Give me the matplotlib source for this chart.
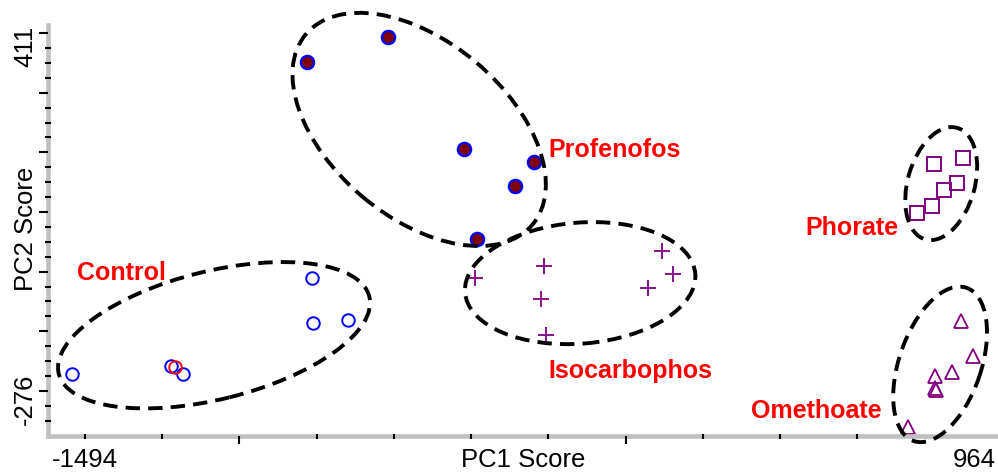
import numpy as np
import matplotlib
matplotlib.use('Agg')
import matplotlib.pyplot as plt
import matplotlib.transforms as mtransforms
from matplotlib.patches import Ellipse

plt.rcParams['font.family'] = ['Liberation Sans', 'DejaVu Sans']

# PC scores
control_x = [-1530, -1256, -1223, -866, -864, -767]
control_y = [-243, -228, -243, -59, -146, -140]
control_red_x = [-1245]
control_red_y = [-230]

profenofos_x = [-880, -656, -446, -252, -305, -410]
profenofos_y = [355, 403, 188, 163, 117, 16]

isocarbophos_x = [-416, -225, -233, -219, 101, 132, 63]
isocarbophos_y = [-59, -36, -100, -169, -7, -51, -78]

phorate_x = [807, 848, 881, 917, 854, 934]
phorate_y = [66, 79, 110, 123, 160, 171]

omethoate_x = [782, 856, 857, 859, 903, 961, 928]
omethoate_y = [-345, -247, -270, -274, -240, -209, -142]

# group ellipse centres (PC1, PC2)
ellipse_x = [-1137, -570, -125, 873, 870]
ellipse_y = [-169, 226, -69, 122, -225]

group_names = ['Control', 'Profenofos', 'Isocarbophos', 'Phorate', 'Omethoate']

x_tick_values = [-1494, 964]
y_tick_values = [411, -276]

# ellipse shapes in pixels: width, height, angle
ellipse_shape = [(320, 128, 14), (296, 176, -40), (231, 121, 4.7),
                 (116, 67, 74), (162, 82, 71)]
label_pos = [(-1394, -63), (-31, 173), (13, -251), (627, 23), (527, -328)]

fig = plt.figure(figsize=(9.98, 4.72), dpi=100)
ax = fig.add_axes([48 / 998, 36 / 472, 950 / 998, 411 / 472])

purple = '#800080'
ax.plot(control_x, control_y, 'o', ms=9, mfc='none', mec='blue', mew=1.4)
ax.plot(control_red_x, control_red_y, 'o', ms=9, mfc='none', mec='red', mew=1.4)
ax.plot(profenofos_x, profenofos_y, 'o', ms=9.5, mfc='#7f0000', mec='blue', mew=1.7)
ax.plot(isocarbophos_x, isocarbophos_y, '+', ms=11, mec=purple, mew=1.3)
ax.plot(phorate_x, phorate_y, 's', ms=10, mfc='none', mec=purple, mew=1.4)
ax.plot(omethoate_x, omethoate_y, '^', ms=10, mfc='none', mec=purple, mew=1.3)

for cx, cy, (w, h, ang) in zip(ellipse_x, ellipse_y, ellipse_shape):
    e = Ellipse((0, 0), w, h, angle=ang, fill=False, ec='black', lw=2.8,
                ls=(0, (3.7, 2.1)), zorder=3, clip_on=False,
                transform=mtransforms.ScaledTranslation(cx, cy, ax.transData))
    ax.add_patch(e)

for name, (lx, ly) in zip(group_names, label_pos):
    ax.text(lx, ly, name, color='red', fontsize=18, fontweight='bold',
            ha='center', va='baseline', zorder=4)

ax.set_xlim(-1596, 1030)
ax.set_ylim(-362.4, 426.4)

# ticks
x_step = 213.5
x_all = [-1494 + k * x_step for k in range(11)]
x_major = [x_all[2], x_all[7]]
x_minor = [v for i, v in enumerate(x_all) if i not in (2, 7)]
y_step = 28.625
y_all = [411 - k * y_step for k in range(27)]
y_major = y_all[::4]
y_minor = [v for i, v in enumerate(y_all) if i % 4]
ax.set_xticks(x_major)
ax.set_xticks(x_minor, minor=True)
ax.set_yticks(y_major)
ax.set_yticks(y_minor, minor=True)
ax.tick_params(which='both', labelbottom=False, labelleft=False, color='black', width=1.5)
ax.tick_params(axis='x', which='major', direction='out', length=6)
ax.tick_params(axis='x', which='minor', direction='inout', length=3.6)
ax.tick_params(axis='y', which='major', direction='out', length=6.2)
ax.tick_params(axis='y', which='minor', direction='inout', length=4.3)

for s in ['top', 'right']:
    ax.spines[s].set_visible(False)
for s in ['left', 'bottom']:
    ax.spines[s].set_color('#c0c0c0')
    ax.spines[s].set_linewidth(3.3)
ax.set_axisbelow(False)

# tick labels at the axis ends
xt = mtransforms.blended_transform_factory(ax.transData, fig.transFigure)
for v in x_tick_values:
    ax.text(v, 5 / 472, str(v), transform=xt, fontsize=18.5, ha='center', va='baseline')
yt = mtransforms.blended_transform_factory(fig.transFigure, ax.transData)
yt = mtransforms.offset_copy(yt, fig, y=-34, units='dots')
for v in y_tick_values:
    ax.text(37 / 998, v, str(v), transform=yt, fontsize=18.5, rotation=90,
            ha='right', va='bottom')

fig.text(523 / 998, 5 / 472, 'PC1 Score', fontsize=18.5, ha='center', va='baseline')
fig.text(38 / 998, (472 - 229) / 472, 'PC2 Score', fontsize=18.5, rotation=90,
         ha='right', va='center')

fig.savefig('out.png', dpi=100)
